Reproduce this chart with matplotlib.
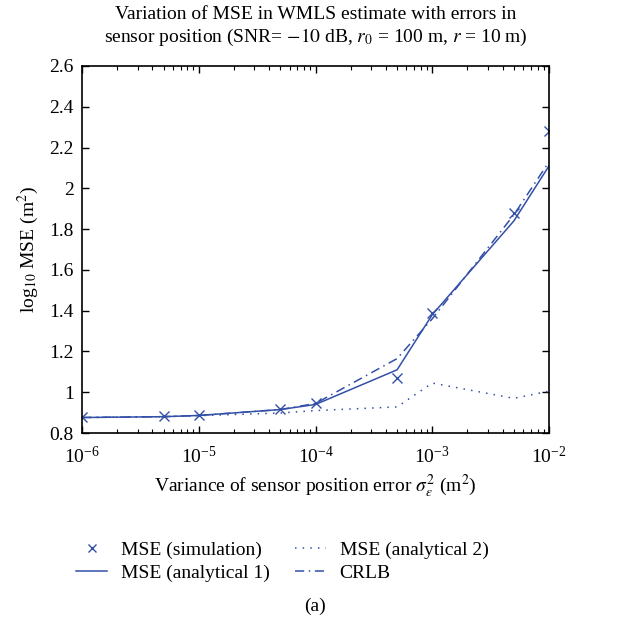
import matplotlib
matplotlib.use("Agg")
import matplotlib.pyplot as plt
from matplotlib.ticker import LogLocator, NullFormatter, FixedLocator

plt.rcParams['font.family'] = ['Liberation Serif', 'DejaVu Serif']
plt.rcParams['mathtext.fontset'] = 'stix'

variance = [1e-6, 5e-6, 1e-5, 5e-5, 1e-4, 5e-4, 1e-3, 5e-3, 1e-2]
mse_sim = [0.880, 0.885, 0.890, 0.920, 0.945, 1.070, 1.390, 1.880, 2.280]
mse_an1 = [0.876, 0.880, 0.886, 0.915, 0.940, 1.110, 1.380, 1.840, 2.110]
mse_an2 = [0.876, 0.880, 0.885, 0.898, 0.910, 0.928, 1.045, 0.970, 1.005]
crlb = [0.876, 0.880, 0.886, 0.915, 0.945, 1.165, 1.360, 1.870, 2.130]
yticks = [0.8, 1.0, 1.2, 1.4, 1.6, 1.8, 2.0, 2.2, 2.4, 2.6]

color = '#3350a8'
fs = 14

fig = plt.figure(figsize=(6.41, 6.21), dpi=100)
W, H = 641, 621
ax = fig.add_axes([82 / W, 1 - 433 / H, (549 - 82) / W, (433 - 66) / H])

h1, = ax.plot(variance, mse_sim, linestyle='none', marker='x', color=color,
              markersize=7.5, markeredgewidth=1.0, label='MSE (simulation)')
h2, = ax.plot(variance, mse_an1, '-', color=color, lw=1.1, label='MSE (analytical 1)')
h3, = ax.plot(variance, mse_an2, linestyle=(0, (1, 4)), color=color, lw=1.1,
              label='MSE (analytical 2)')
h4, = ax.plot(variance, crlb, linestyle=(0, (6, 3, 1, 3)), color=color, lw=1.1,
              label='CRLB')

ax.set_xscale('log')
ax.set_xlim(1e-6, 1e-2)
ax.set_ylim(0.8, 2.6)
ax.yaxis.set_major_locator(FixedLocator(yticks))
ax.set_yticklabels(['%g' % v for v in yticks])
ax.xaxis.set_major_locator(LogLocator(base=10, numticks=10))
ax.xaxis.set_minor_locator(LogLocator(base=10, subs=range(2, 10), numticks=20))
ax.xaxis.set_minor_formatter(NullFormatter())
ax.tick_params(which='both', direction='in', top=True, right=True, labelsize=fs)
ax.tick_params(which='major', length=5, width=1)
ax.tick_params(which='minor', length=3, width=0.8)
ax.tick_params(axis='x', pad=9)
ax.tick_params(axis='y', pad=6)
for s in ax.spines.values():
    s.set_linewidth(1.2)

ax.set_title('Variation of MSE in WMLS estimate with errors in\n'
             'sensor position (SNR= $-10$ dB, $r_0$ = 100 m, $r$ = 10 m)',
             fontsize=fs, pad=17, linespacing=1.3)
ax.set_xlabel(r'Variance of sensor position error $\sigma_\varepsilon^2$ (m$^2$)',
              fontsize=fs, labelpad=4)
ax.set_ylabel(r'log$_{10}$ MSE (m$^2$)', fontsize=fs, labelpad=6)

leg = fig.legend(handles=[h1, h2, h3, h4], ncol=2, frameon=False, fontsize=fs,
                 loc='upper left', bbox_to_anchor=(76 / W, 1 - 541 / H),
                 bbox_transform=fig.transFigure, handlelength=1.6, columnspacing=1.3,
                 labelspacing=0.28, handletextpad=0.7, markerscale=0.8,
                 borderaxespad=0, borderpad=0)

fig.text(0.492, 1 - 606 / H, '(a)', ha='center', va='center', fontsize=fs)

fig.savefig('out.png', dpi=100)
